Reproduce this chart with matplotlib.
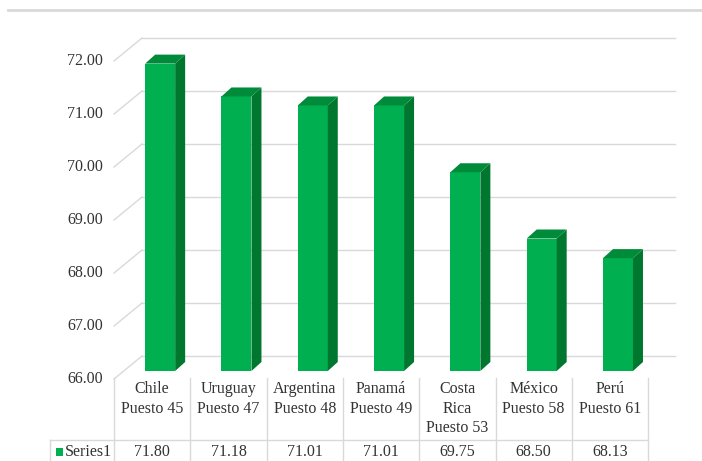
import matplotlib
matplotlib.use("Agg")
import matplotlib.pyplot as plt
from matplotlib.patches import Polygon, Rectangle

# datos
paises = ["Chile\nPuesto 45", "Uruguay\nPuesto 47", "Argentina\nPuesto 48",
          "Panamá\nPuesto 49", "Costa\nRica\nPuesto 53", "México\nPuesto 58",
          "Perú\nPuesto 61"]
valores = [71.80, 71.18, 71.01, 71.01, 69.75, 68.50, 68.13]
yticks = [66, 67, 68, 69, 70, 71, 72]
serie = "Series1"

verde = "#00B050"
verde_lado = "#00772E"
verde_top = "#008B3A"
gris = "#D9D9D9"
texto = "#333333"

plt.rcParams["font.family"] = ["Liberation Serif", "DejaVu Serif"]
fs = 11.5

fig = plt.figure(figsize=(7.02, 4.61), dpi=100)
ax = fig.add_axes([0, 0, 1, 1])
ax.set_xlim(-1.994, 7.206)
ax.set_ylim(64.453, 73.151)
ax.axis("off")

ux = 76.3   # px por categoria
uy = 53.0   # px por unidad


def py(p):
    # fila de pixel -> valor y
    return 66 - (p - 379) / uy


n = len(valores)
ymin, ymax = yticks[0], yticks[-1]

# linea superior
ax.plot([-0.5 - 106 / ux, 7.206], [py(10), py(10)], color=gris, lw=2)

# pared del fondo
wx, wy = 28 / ux, 23 / uy
x_fin = -0.5 + (675 - 114) / ux
for t in yticks:
    ax.plot([-0.5 + wx, x_fin], [t + wy, t + wy], color=gris, lw=1, zorder=1)
    ax.plot([-0.5, -0.5 + wx], [t, t + wy], color=gris, lw=1, zorder=1)
    ax.text(-0.5 - 11 / ux, t, f"{t:.2f}", ha="right", va="center", fontsize=fs, color=texto)

# barras 3d
bx, by = 8 / ux, 8 / uy
ancho = 30 / ux
dx, dy = 10 / ux, 9 / uy
xs = [i + bx for i in range(n)]
ax.bar(xs, [v - ymin for v in valores], bottom=ymin + by, width=ancho,
       color=verde, zorder=3, linewidth=0)
for x, v in zip(xs, valores):
    x0, x1 = x - ancho / 2, x + ancho / 2
    top = v + by
    ax.add_patch(Polygon([(x1, ymin + by), (x1 + dx, ymin + by + dy),
                          (x1 + dx, top + dy), (x1, top)],
                         closed=True, color=verde_lado, zorder=3, lw=0))
    ax.add_patch(Polygon([(x0, top), (x1, top), (x1 + dx, top + dy), (x0 + dx, top + dy)],
                         closed=True, color=verde_top, zorder=3, lw=0))

# tabla de datos
y_tab_top = py(378)
y_linea = py(440)
y_bot = py(461)
for i in range(n + 1):
    ax.plot([i - 0.5, i - 0.5], [y_tab_top, y_bot], color=gris, lw=1)
x_izq = -0.5 - 64 / ux
ax.plot([x_izq, n - 0.5], [y_linea, y_linea], color=gris, lw=1)
ax.plot([x_izq, x_izq], [y_linea, y_bot], color=gris, lw=1)

for i, (lab, v) in enumerate(zip(paises, valores)):
    ax.text(i, py(381), lab, ha="center", va="top", fontsize=fs, color=texto,
            linespacing=1.3)
    ax.text(i, py(452), f"{v:.2f}", ha="center", va="center", fontsize=fs, color=texto)

ax.add_patch(Rectangle((x_izq + 6 / ux, py(456)), 7 / ux, 8 / uy, color=verde, lw=0))
ax.text(x_izq + 15 / ux, py(452), serie, ha="left", va="center", fontsize=fs, color=texto)

fig.savefig("out.png", dpi=100)
